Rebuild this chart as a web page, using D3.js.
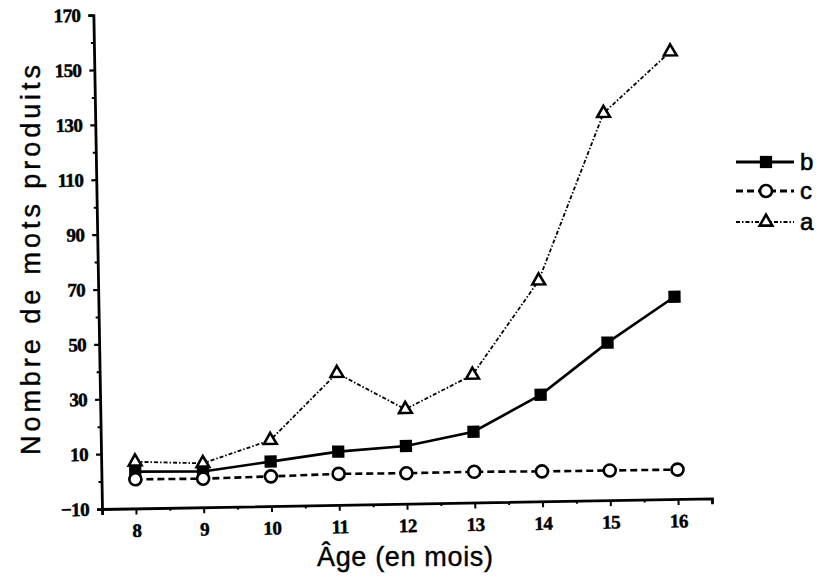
<!DOCTYPE html>
<html>
<head>
<meta charset="utf-8">
<script src="https://cdn.jsdelivr.net/npm/d3@7"></script>
<style>
  html, body { margin: 0; padding: 0; background: #fff; }
  svg { display: block; }
</style>
</head>
<body>
<svg id="chart" width="824" height="583"></svg>
<script>
// ---- data ----
const ages = [8, 9, 10, 11, 12, 13, 14, 15, 16];
const seriesA = [7, 6, 14, 38, 24.4, 36.5, 70.4, 131, 153];
const seriesB = [3.4, 3, 6.2, 9.4, 11, 15.8, 28.8, 47.4, 63.7];
const seriesC = [0.6, 0.4, 0.8, 1.3, 1.1, 1.2, 0.9, 0.8, 0.7];
const yTickLabels = [-10, 10, 30, 50, 70, 90, 110, 130, 150, 170];
const yMinorTicks = [0, 20, 40, 60, 80, 100, 120, 140, 160];
const xMinorTicks = [7.5, 8.5, 9.5, 10.5, 11.5, 12.5, 13.5, 14.5, 15.5, 16.5];
const legendOrder = ["b", "c", "a"];
const yTitle = "Nombre de mots produits";
const xTitle = "Âge (en mois)";

const svg = d3.select("#chart");
const ox = 102, oy = 509;

const x = d3.scaleLinear().domain([7.5, 16.5]).range([ox, 712]);
const y = d3.scaleLinear().domain([-10, 170]).range([oy, 15]);

// scanned page is slightly tilted: rotate plot group
const g = svg.append("g").attr("transform", `rotate(-1, ${ox}, ${oy})`);

const tickFont = "'Liberation Serif', 'Times New Roman', serif";

// Y axis
const yAxis = d3.axisLeft(y).tickValues(yTickLabels).tickSize(5).tickPadding(8)
  .tickFormat(d => d < 0 ? "\u2212" + Math.abs(d) : d);
const yg = g.append("g").attr("transform", `translate(${ox},0)`).call(yAxis);
yg.select(".domain").attr("stroke", "#000").attr("stroke-width", 2.8);
yg.selectAll(".tick line").attr("stroke-width", 2.2);
yg.selectAll(".tick text").attr("font-family", tickFont).attr("font-weight", "bold")
  .attr("font-size", 19).attr("fill", "#000").attr("stroke", "#000").attr("stroke-width", 0.5)
  .attr("letter-spacing", -0.6);
const yMinor = d3.axisLeft(y).tickValues(yMinorTicks).tickSize(3).tickFormat("");
const ym = g.append("g").attr("transform", `translate(${ox},0)`).call(yMinor);
ym.select(".domain").remove();
ym.selectAll(".tick line").attr("stroke-width", 2);

// X axis
const xAxis = d3.axisBottom(x).tickValues(ages).tickSize(6).tickPadding(9);
const xg = g.append("g").attr("transform", `translate(0,${oy})`).call(xAxis);
xg.select(".domain").attr("stroke", "#000").attr("stroke-width", 2.8);
xg.selectAll(".tick line").attr("stroke-width", 2);
xg.selectAll(".tick text").attr("font-family", tickFont).attr("font-weight", "bold")
  .attr("font-size", 19).attr("fill", "#000").attr("stroke", "#000").attr("stroke-width", 0.5)
  .attr("letter-spacing", -0.6);
const xMinor = d3.axisBottom(x).tickValues(xMinorTicks).tickSize(3).tickFormat("");
const xm = g.append("g").attr("transform", `translate(0,${oy})`).call(xMinor);
xm.select(".domain").remove();
xm.selectAll(".tick line").attr("stroke-width", 2);

// series
const series = [
  { key: "a", values: seriesA, dash: "4,2,1.5,2", width: 1.8, marker: "triangle" },
  { key: "b", values: seriesB, dash: null, width: 2.6, marker: "square" },
  { key: "c", values: seriesC, dash: "7,4", width: 2.6, marker: "circle" }
];
const line = d3.line().x(d => x(d[0])).y(d => y(d[1]));

function drawMarker(sel, type, cx, cy) {
  if (type === "square") {
    sel.append("path").attr("d", d3.symbol().type(d3.symbolSquare).size(150)())
      .attr("transform", `translate(${cx},${cy})`).attr("fill", "#000");
  } else if (type === "circle") {
    sel.append("circle").attr("cx", cx).attr("cy", cy).attr("r", 6)
      .attr("fill", "#fff").attr("stroke", "#000").attr("stroke-width", 2.6);
  } else {
    sel.append("path").attr("d", d3.symbol().type(d3.symbolTriangle).size(70)())
      .attr("transform", `translate(${cx},${cy})`)
      .attr("fill", "#fff").attr("stroke", "#000").attr("stroke-width", 2.6);
  }
}

series.forEach(s => {
  const pts = ages.map((a, i) => [a, s.values[i]]);
  g.append("path").datum(pts).attr("d", line).attr("fill", "none")
    .attr("stroke", "#000").attr("stroke-width", s.width)
    .attr("stroke-dasharray", s.dash);
  const mg = g.append("g");
  pts.forEach(p => drawMarker(mg, s.marker, x(p[0]), y(p[1])));
});

// legend (screen coordinates)
const lg = svg.append("g");
const legY = { b: 162, c: 191, a: 222 };
legendOrder.forEach(k => {
  const s = series.find(d => d.key === k);
  const ly = legY[k];
  lg.append("line").attr("x1", 736).attr("x2", 794).attr("y1", ly).attr("y2", ly)
    .attr("stroke", "#000").attr("stroke-width", s.width + 0.4).attr("stroke-dasharray", s.dash);
  drawMarker(lg, s.marker, 766, ly);
  lg.append("text").attr("x", 800).attr("y", ly).attr("dy", "0.35em")
    .attr("font-family", "'Liberation Sans', Arial, sans-serif").attr("font-size", 24)
    .attr("stroke", "#000").attr("stroke-width", 0.6)
    .attr("fill", "#000").text(k);
});

// axis titles
svg.append("text").attr("transform", "translate(40,260) rotate(-90)")
  .attr("text-anchor", "middle")
  .attr("font-family", "'Liberation Sans', Arial, sans-serif").attr("font-size", 27)
  .attr("stroke", "#000").attr("stroke-width", 0.4)
  .attr("textLength", 390).attr("lengthAdjust", "spacing")
  .attr("fill", "#000").text(yTitle);

svg.append("text").attr("x", 405).attr("y", 566)
  .attr("text-anchor", "middle")
  .attr("font-family", "'Liberation Sans', Arial, sans-serif").attr("font-size", 27)
  .attr("stroke", "#000").attr("stroke-width", 0.4)
  .attr("textLength", 176).attr("lengthAdjust", "spacing")
  .attr("fill", "#000").text(xTitle);
</script>
</body>
</html>
